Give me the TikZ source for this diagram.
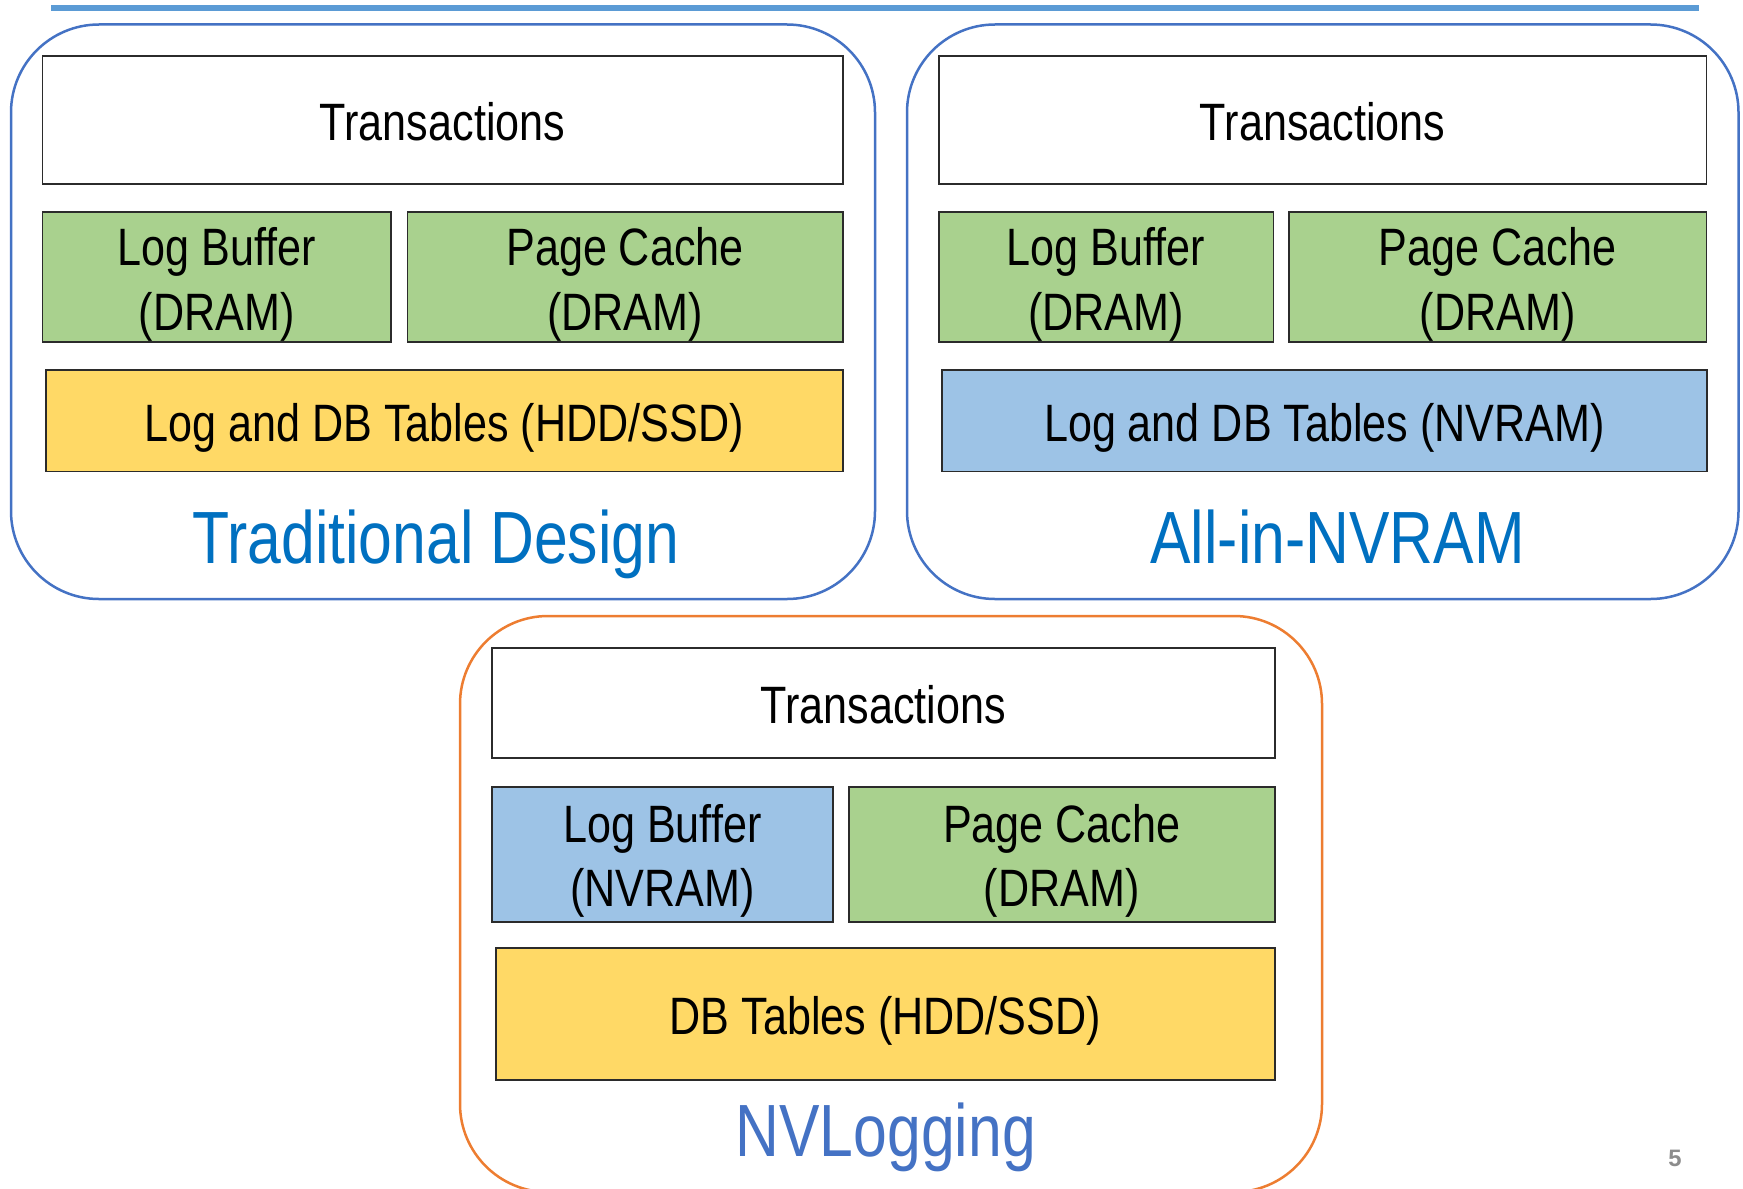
\documentclass[tikz,border=0pt]{standalone}
\usepackage{fontspec}
\usetikzlibrary{fit}
\newfontfamily\narrowsans{Liberation Sans}[FakeStretch=0.82]
\newfontfamily\plainsans{Liberation Sans}

\definecolor{rulecol}{HTML}{5B9BD5}
\definecolor{panelblue}{HTML}{4472C4}
\definecolor{panelorange}{HTML}{ED7D31}
\definecolor{boxline}{HTML}{2B2B2B}
\definecolor{dramgreen}{HTML}{A9D18E}
\definecolor{diskyellow}{HTML}{FFD966}
\definecolor{nvramblue}{HTML}{9DC3E6}
\definecolor{titleblue}{HTML}{0070C0}
\definecolor{nvlogblue}{HTML}{4472C4}
\definecolor{pagegray}{HTML}{8C8C8C}

\begin{document}
\begin{tikzpicture}[x=0.5pt,y=-0.5pt,
  panel/.style={draw, line width=1.25pt, rounded corners=44pt, inner sep=0pt, fill=white},
  layer/.style={draw=boxline, line width=0.9pt, inner sep=0pt},
  plainlayer/.style={layer, fill=white},
  dram/.style={layer, fill=dramgreen},
  disk/.style={layer, fill=diskyellow},
  nvram/.style={layer, fill=nvramblue},
  txt/.style={font=\narrowsans\fontsize{26.3}{30}\selectfont, anchor=base, inner sep=0pt},
  title/.style={font=\narrowsans\fontsize{37}{42}\selectfont, anchor=base, inner sep=0pt},
]
\useasboundingbox (0,0) rectangle (1743,1188);
\clip (0,0) rectangle (1743,1188);

% header rule
\coordinate (ruleL) at (51,8);
\coordinate (ruleR) at (1699,8);
\draw[rulecol, line width=2.85pt] (ruleL) -- (ruleR);

% the three design panels
\node[panel, draw=panelblue, fit={(11,24.5) (875,599)}] (trad) {};
\node[panel, draw=panelblue, fit={(907,24.5) (1738.5,599)}] (allnv) {};
\node[panel, draw=panelorange, fit={(460,616) (1322,1192)}] (nvlog) {};

% Traditional design stack
\node[plainlayer, fit={(42.5,56) (842.6,184.3)}] (tx1) {};
\node[dram, fit={(42.5,212.3) (391,342)}] (lb1) {};
\node[dram, fit={(407.5,212.3) (842.6,342)}] (pc1) {};
\node[disk, fit={(45.8,370) (842.6,471.5)}] (db1) {};
\node[txt] (tx1t) at (442.5,140.7) {Transactions};
\node[txt] (lb1a) at (216.8,265) {Log Buffer};
\node[txt] (lb1b) at (216.8,330) {(DRAM)};
\node[txt] (pc1a) at (625,265) {Page Cache};
\node[txt] (pc1b) at (625,330) {(DRAM)};
\node[txt] (db1t) at (444.2,441.7) {Log and DB Tables (HDD/SSD)};
\node[title, text=titleblue] (tradt) at (436,563) {Traditional Design};

% All-in-NVRAM stack
\node[plainlayer, fit={(938.7,56) (1706.5,184.3)}] (tx2) {};
\node[dram, fit={(938.7,212.3) (1273.5,342)}] (lb2) {};
\node[dram, fit={(1288.7,212.3) (1706.5,342)}] (pc2) {};
\node[nvram, fit={(942,370) (1707,471.5)}] (db2) {};
\node[txt] (tx2t) at (1322.6,140.7) {Transactions};
\node[txt] (lb2a) at (1106.1,265) {Log Buffer};
\node[txt] (lb2b) at (1106.1,330) {(DRAM)};
\node[txt] (pc2a) at (1497.6,265) {Page Cache};
\node[txt] (pc2b) at (1497.6,330) {(DRAM)};
\node[txt] (db2t) at (1324.5,441.7) {Log and DB Tables (NVRAM)};
\node[title, text=titleblue] (allnvt) at (1337.6,563) {All-in-NVRAM};

% NVLogging stack
\node[plainlayer, fit={(491.7,647.7) (1275,758.3)}] (tx3) {};
\node[nvram, fit={(491.7,786.7) (833,921.7)}] (lb3) {};
\node[dram, fit={(848.7,786.7) (1275,921.7)}] (pc3) {};
\node[disk, fit={(495.7,948.3) (1275,1080)}] (db3) {};
\node[txt] (tx3t) at (883.3,723.3) {Transactions};
\node[txt] (lb3a) at (662.3,842.3) {Log Buffer};
\node[txt] (lb3b) at (662.3,906.7) {(NVRAM)};
\node[txt] (pc3a) at (1061.8,842.3) {Page Cache};
\node[txt] (pc3b) at (1061.8,906.7) {(DRAM)};
\node[txt] (db3t) at (885.3,1034.3) {DB Tables (HDD/SSD)};
\node[title, text=nvlogblue] (nvlogt) at (885.7,1156) {NVLogging};

% slide number
\node[anchor=base, inner sep=0pt, text=pagegray, font=\plainsans\bfseries\fontsize{11.9}{14}\selectfont] (pagenum) at (1675,1166) {5};
\end{tikzpicture}
\end{document}
